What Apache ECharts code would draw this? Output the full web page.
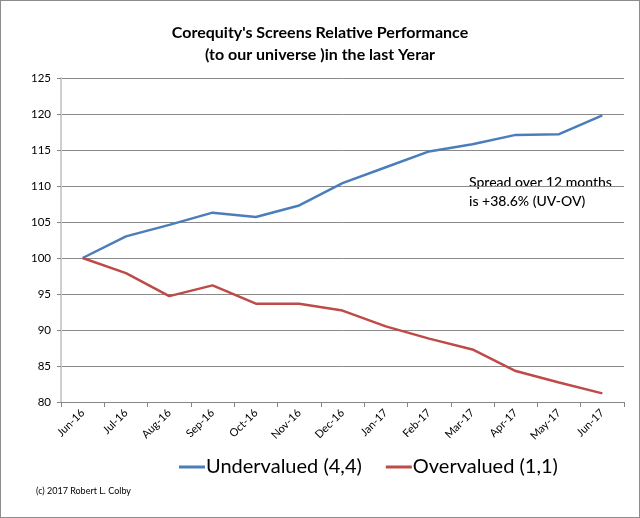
<!DOCTYPE html>
<html lang="en">
<head>
    <meta charset="utf-8">
    <title>Corequity's Screens Relative Performance</title>
    <script src="https://cdn.jsdelivr.net/npm/echarts@6/dist/echarts.min.js"></script>
    <style>
        html, body { margin: 0; padding: 0; background: #fff; }
        #container { width: 640px; height: 518px; box-sizing: border-box; border: 1px solid #8c8c8c; }
    </style>
</head>
<body>
<div id="container"></div>
<script type="text/javascript">
    // months on the x axis
    var months = ['Jun-16', 'Jul-16', 'Aug-16', 'Sep-16', 'Oct-16', 'Nov-16', 'Dec-16',
        'Jan-17', 'Feb-17', 'Mar-17', 'Apr-17', 'May-17', 'Jun-17'];
    // values
    var undervalued = [100, 103.0, 104.6, 106.3, 105.7, 107.3, 110.4, 112.6, 114.8, 115.8, 117.1, 117.2, 119.8];
    var overvalued = [100, 97.9, 94.7, 96.2, 93.65, 93.65, 92.7, 90.5, 88.8, 87.3, 84.3, 82.7, 81.2];
    var seriesNames = ['Undervalued (4,4)', 'Overvalued (1,1)'];

    var font = 'Lato, "Open Sans", sans-serif';
    var myChart = echarts.init(document.getElementById('container'), null, {renderer: 'canvas'});

    var option = {
        animation: false,
        title: {
            text: "Corequity's Screens Relative Performance\n(to our universe )in the last Yerar",
            left: 'center',
            top: 16,
            textStyle: {fontFamily: font, fontSize: 16, fontWeight: 'bold', color: '#000', lineHeight: 22}
        },
        legend: {
            data: seriesNames,
            top: 451,
            left: 173,
            itemWidth: 26,
            itemHeight: 3,
            itemGap: 24,
            icon: 'rect',
            textStyle: {fontFamily: font, fontSize: 20, color: '#000', padding: [0, 0, 0, -4]}
        },
        grid: {left: 60, right: 15, top: 77, bottom: 115},
        xAxis: {
            type: 'category',
            data: months,
            boundaryGap: true,
            axisLine: {lineStyle: {color: '#868686', width: 1}},
            axisTick: {show: true, length: 5, lineStyle: {color: '#868686'}},
            axisLabel: {rotate: 45, fontFamily: font, fontSize: 11, color: '#000', margin: 9}
        },
        yAxis: {
            type: 'value',
            min: 80,
            max: 125,
            interval: 5,
            axisLine: {show: true, lineStyle: {color: '#cfcfcf', width: 2}},
            axisTick: {show: true, length: 4, lineStyle: {color: '#868686'}},
            axisLabel: {fontFamily: font, fontSize: 11.5, color: '#000', margin: 10},
            splitLine: {lineStyle: {color: '#8a8a8a', width: 1}}
        },
        series: [
            {
                name: seriesNames[0],
                type: 'line',
                data: undervalued,
                symbol: 'none',
                color: '#4a7ebb',
                lineStyle: {width: 2.5, color: '#4a7ebb'}
            },
            {
                name: seriesNames[1],
                type: 'line',
                data: overvalued,
                symbol: 'none',
                color: '#be4b48',
                lineStyle: {width: 2.5, color: '#be4b48'}
            }
        ],
        graphic: [
            {
                type: 'text',
                left: 468,
                top: 172,
                style: {
                    text: 'Spread over 12 months\nis +38.6% (UV-OV)',
                    font: '500 14px ' + font,
                    fill: '#000',
                    lineHeight: 19
                }
            },
            {
                type: 'text',
                left: 35,
                top: 486,
                style: {text: '(c) 2017 Robert L. Colby', font: '9px ' + font, fill: '#000'}
            }
        ]
    };
    myChart.setOption(option);
</script>
</body>
</html>
